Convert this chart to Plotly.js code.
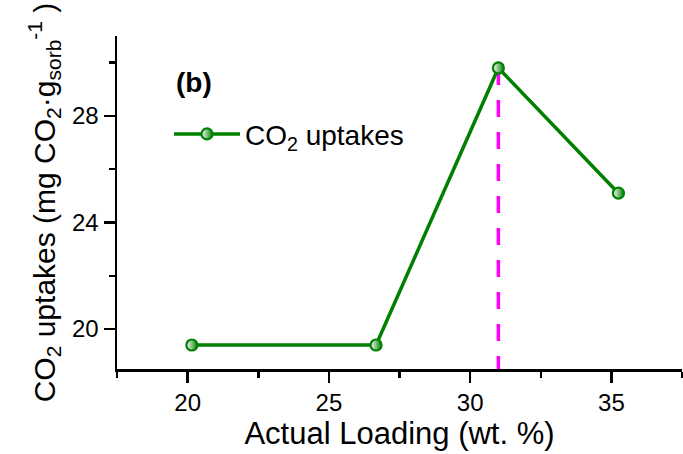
<!DOCTYPE html>
<html>
<head>
<meta charset="utf-8">
<script src="https://cdn.plot.ly/plotly-3.0.1.min.js"></script>
<style>html,body{margin:0;padding:0;background:#fff;}#chart{width:683px;height:454px;}</style>
</head>
<body>
<div id="chart"></div>
<script>
// Data
const loading = [20.15, 26.67, 31.0, 35.25];           // Actual Loading (wt. %)
const uptake  = [19.4, 19.4, 29.8, 25.1];               // CO2 uptakes (mg CO2 / g sorb)
const markerX = [31.0, 31.0];                          // vertical dashed marker line
const markerY = [29.8, 18.5];
const seriesName = 'CO<sub>2</sub> uptakes';
const xTickVals = [20, 25, 30, 35];
const yTickVals = [20, 24, 28];

const FONT = 'Liberation Sans, Arial, Helvetica, sans-serif';

const traces = [
  {
    x: markerX, y: markerY, mode: 'lines', showlegend: false, hoverinfo: 'skip',
    line: {color: '#ff00ff', width: 3.5, dash: '17px,15px'}
  },
  {
    x: loading, y: uptake, mode: 'lines+markers', name: seriesName,
    line: {color: '#008000', width: 3.5},
    marker: {symbol: 'circle', size: 11, color: '#ffffff',
             gradient: {type: 'horizontal', color: '#008000'},
             line: {color: '#008000', width: 2.2}}
  }
];

const layout = {
  width: 683, height: 454,
  margin: {l: 117, r: 1, t: 36, b: 85},
  paper_bgcolor: '#ffffff', plot_bgcolor: '#ffffff',
  font: {family: FONT, color: '#000000', size: 24},
  showlegend: true,
  legend: {x: 0.092, y: 0.705, xanchor: 'left', yanchor: 'middle',
           bgcolor: 'rgba(0,0,0,0)', borderwidth: 0,
           font: {family: FONT, size: 28, color: '#000'}, itemwidth: 66},
  xaxis: {
    range: [17.5, 37.5], tickvals: xTickVals, ticktext: xTickVals.map(String),
    showline: true, linecolor: '#000', linewidth: 2.5, zeroline: false, showgrid: false,
    ticks: 'outside', ticklen: 11, tickwidth: 2.5, tickcolor: '#000',
    minor: {dtick: 2.5, tick0: 17.5, ticks: 'outside', ticklen: 6, tickwidth: 2.5, tickcolor: '#000', showgrid: false},
    tickfont: {family: FONT, size: 24, color: '#000'},
    title: {text: 'Actual Loading (wt. %)', font: {family: FONT, size: 31, color: '#000'}, standoff: 3}
  },
  yaxis: {
    range: [18.5, 31.0], tickvals: yTickVals, ticktext: yTickVals.map(String),
    showline: true, linecolor: '#000', linewidth: 2.5, zeroline: false, showgrid: false,
    ticks: 'outside', ticklen: 11, tickwidth: 2.5, tickcolor: '#000',
    minor: {dtick: 2, tick0: 18, ticks: 'outside', ticklen: 6, tickwidth: 2.5, tickcolor: '#000', showgrid: false},
    tickfont: {family: FONT, size: 24, color: '#000'},
    title: {text: 'CO<sub>2</sub> uptakes (mg CO<sub>2</sub>·g<sub>sorb</sub><sup>-1</sup> )',
            font: {family: FONT, size: 30, color: '#000'}, standoff: 8}
  },
  annotations: [
    {text: '<b>(b)</b>', xref: 'paper', yref: 'paper', x: 0.10, y: 0.86,
     xanchor: 'left', yanchor: 'middle', showarrow: false,
     font: {family: FONT, size: 28, color: '#000'}}
  ]
};

Plotly.newPlot('chart', traces, layout, {staticPlot: true, displayModeBar: false});
</script>
</body>
</html>
